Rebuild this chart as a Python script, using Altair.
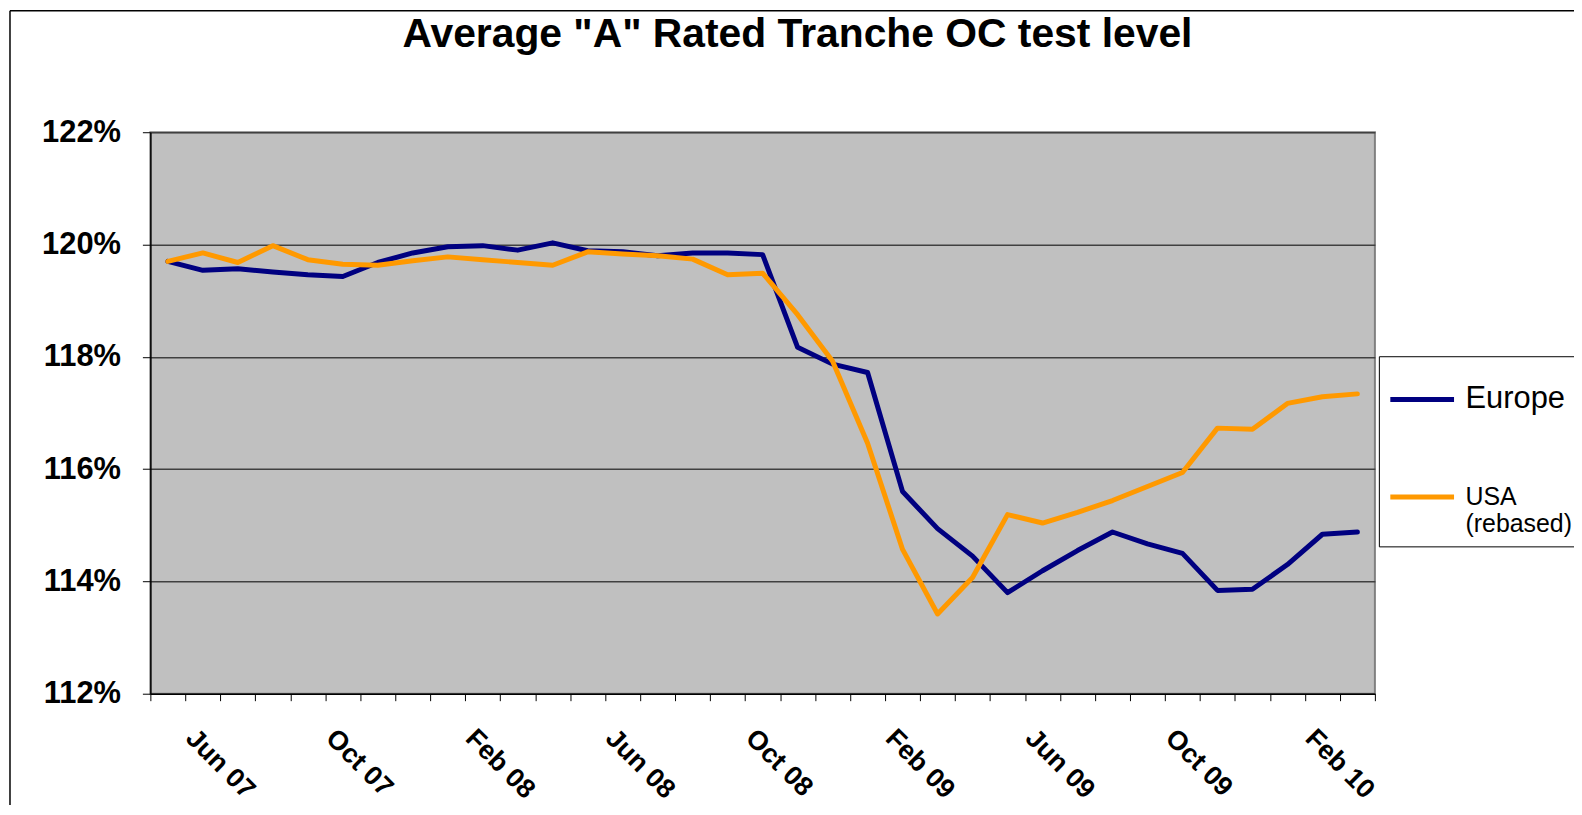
import json
import altair as alt
import pandas as pd

months = [
    "Jun 07", "Jul 07", "Aug 07", "Sep 07", "Oct 07", "Nov 07", "Dec 07",
    "Jan 08", "Feb 08", "Mar 08", "Apr 08", "May 08", "Jun 08", "Jul 08",
    "Aug 08", "Sep 08", "Oct 08", "Nov 08", "Dec 08", "Jan 09", "Feb 09",
    "Mar 09", "Apr 09", "May 09", "Jun 09", "Jul 09", "Aug 09", "Sep 09",
    "Oct 09", "Nov 09", "Dec 09", "Jan 10", "Feb 10", "Mar 10", "Apr 10",
]
europe = [
    119.70, 119.54, 119.57, 119.51, 119.46, 119.43, 119.68, 119.85, 119.96,
    119.98, 119.90, 120.03, 119.89, 119.87, 119.80, 119.85, 119.85, 119.82,
    118.17, 117.87, 117.72, 115.60, 114.94, 114.45, 113.80, 114.19, 114.55,
    114.88, 114.67, 114.50, 113.84, 113.86, 114.30, 114.84, 114.88,
]
usa = [
    119.70, 119.85, 119.68, 119.98, 119.73, 119.65, 119.63, 119.71, 119.78,
    119.73, 119.68, 119.63, 119.87, 119.83, 119.80, 119.74, 119.46, 119.49,
    118.75, 117.92, 116.46, 114.57, 113.42, 114.07, 115.19, 115.04, 115.23,
    115.44, 115.69, 115.94, 116.73, 116.71, 117.17, 117.29, 117.34,
]
series_names = ["Europe", "USA"]
series_colors = ["#000080", "#FF9900"]
tick_labels = ["Jun 07", "Oct 07", "Feb 08", "Jun 08", "Oct 08", "Feb 09",
               "Jun 09", "Oct 09", "Feb 10"]
y_ticks = [112, 114, 116, 118, 120, 122]

n = len(months)
df = pd.DataFrame({
    "month": months * 2,
    "value": europe + usa,
    "series": [series_names[0]] * n + [series_names[1]] * n,
})

FONT = "Liberation Sans"
label_expr = "indexof(" + json.dumps(tick_labels) + ", datum.value) >= 0 ? datum.label : ''"

lines = alt.Chart(df).mark_line(strokeWidth=5, strokeJoin="round", strokeCap="round").encode(
    x=alt.X(
        "month:N", sort=months, bandPosition=0.5,
        scale=alt.Scale(type="band", paddingInner=0, paddingOuter=0),
        axis=alt.Axis(
            title=None, tickBand="extent", labelExpr=label_expr, labelAngle=45,
            labelAlign="left", labelBaseline="top", labelOffset=31, labelPadding=24,
            labelFont=FONT, labelFontWeight="bold", labelFontSize=27, labelColor="black",
            labelOverlap=False, labelBound=False, labelFlush=False,
            tickSize=7, tickColor="black", tickWidth=1,
            domainColor="black", domainWidth=1.5, grid=False,
        ),
    ),
    y=alt.Y(
        "value:Q",
        scale=alt.Scale(domain=[112, 122], nice=False, zero=False),
        axis=alt.Axis(
            title=None, values=y_ticks, labelExpr="format(datum.value, 'd') + '%'",
            labelFont=FONT, labelFontWeight="bold", labelFontSize=31, labelColor="black",
            labelPadding=22, tickSize=8, tickColor="black", tickWidth=1,
            domainColor="black", domainWidth=1.5,
            grid=True, gridColor="#404040", gridWidth=1.5,
        ),
    ),
    color=alt.Color(
        "series:N",
        scale=alt.Scale(domain=series_names, range=series_colors),
        legend=alt.Legend(
            title=None, orient="none", legendX=1234, legendY=225,
            symbolType="stroke", symbolSize=4096, symbolStrokeWidth=5,
            labelFont=FONT, labelFontSize={"expr": "datum.value == 'Europe' ? 31 : 25"},
            labelExpr="datum.value == 'USA' ? ['USA', '(rebased)'] : datum.label",
            labelBaseline="middle",
            labelColor="black", labelOffset=9, labelLimit=0,
            padding=9, rowPadding=48,
            strokeColor="black", fillColor="white",
        ),
    ),
)

frame = alt.Chart(pd.DataFrame({"a": [0]})).mark_rule(color="black", strokeWidth=1.5).encode(
    x=alt.value(-141), x2=alt.value(1500), y=alt.value(-122), y2=alt.value(-122)
)
frame_left = alt.Chart(pd.DataFrame({"a": [0]})).mark_rule(color="black", strokeWidth=1.5).encode(
    x=alt.value(-141), x2=alt.value(-141), y=alt.value(-122), y2=alt.value(800)
)

chart = alt.layer(frame, frame_left, lines).properties(
    width=1230, height=564,
    padding={"left": 143, "top": 123, "right": 200, "bottom": 110},
    autosize=alt.AutoSizeParams(type="none"),
    title=alt.Title(
        'Average "A" Rated Tranche OC test level',
        font=FONT, fontSize=41, fontWeight="bold", color="black",
        anchor="middle", dx=35, offset=-78, baseline="alphabetic",
    ),
    background="white",
).configure_view(
    fill="#C0C0C0", stroke="#808080", strokeWidth=2,
)

chart.save("out.html", embed_options={"renderer": "svg", "actions": False})
